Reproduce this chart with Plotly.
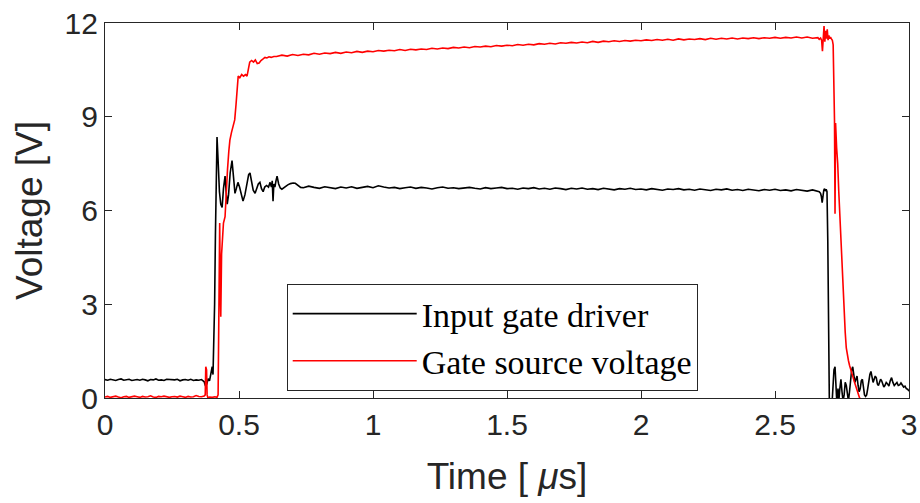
import plotly.graph_objects as go

# ---------------- data (time in microseconds, voltage in volts) ----------------
black_pre = [(0.00,0.59),(0.01,0.57),(0.02,0.60),(0.03,0.58),(0.04,0.56),(0.05,0.59),(0.06,0.61),
             (0.07,0.57),(0.08,0.58),(0.09,0.60),(0.10,0.56),(0.11,0.58),(0.12,0.59),(0.13,0.57),
             (0.14,0.60),(0.15,0.58),(0.16,0.55),(0.17,0.59),(0.18,0.58),(0.19,0.61),(0.20,0.57),
             (0.21,0.58),(0.22,0.56),(0.23,0.60),(0.24,0.59),(0.25,0.57),(0.26,0.58),(0.27,0.60),
             (0.28,0.55),(0.29,0.58),(0.30,0.59),(0.31,0.57),(0.32,0.60),(0.33,0.56),(0.34,0.58),
             (0.35,0.57),(0.36,0.59)]

black_rise = [(0.370,0.52),(0.375,0.38),(0.380,0.45),(0.385,0.62),(0.390,0.55),(0.395,0.80),
              (0.400,1.00),(0.403,0.75),(0.406,1.6),(0.409,3.0),(0.412,5.2),(0.415,7.3),(0.418,8.35),
              (0.422,7.6),(0.427,6.6),(0.432,6.2),(0.437,6.1),(0.442,6.7),(0.448,7.1),(0.452,6.6),
              (0.456,6.2),(0.461,6.5),(0.467,7.2),(0.474,7.6),(0.479,7.0),(0.485,6.55),(0.490,6.7),
              (0.496,6.9),(0.502,6.75),(0.508,6.5),(0.515,6.3),(0.522,6.5),(0.530,6.9),(0.536,7.15),
              (0.541,7.2),(0.547,6.9),(0.553,6.65),(0.560,6.55),(0.566,6.7),(0.572,6.85),(0.578,6.9),
              (0.584,6.7),(0.590,6.6),(0.596,6.75),(0.603,6.8),(0.610,6.75),(0.616,6.9),(0.621,6.75),
              (0.624,6.95),(0.627,6.3),(0.630,6.85),(0.634,6.75),(0.638,6.95),(0.642,7.1),(0.648,6.85),
              (0.654,6.72),(0.660,6.68),(0.666,6.72),(0.674,6.78),(0.682,6.82),(0.692,6.86),
              (0.702,6.88),(0.710,6.87),(0.720,6.80),(0.730,6.74)]

black_flat = [(0.74,6.73),(0.76,6.78),(0.78,6.74),(0.80,6.71),(0.82,6.76),(0.84,6.73),(0.86,6.70),
              (0.88,6.75),(0.90,6.72),(0.92,6.76),(0.94,6.71),(0.96,6.74),(0.98,6.77),(1.00,6.73),
              (1.02,6.79),(1.04,6.75),(1.06,6.72),(1.08,6.74),(1.10,6.70),(1.12,6.73),(1.14,6.75),
              (1.16,6.71),(1.18,6.74),(1.20,6.72),(1.22,6.69),(1.24,6.73),(1.26,6.75),(1.28,6.71),
              (1.30,6.73),(1.32,6.70),(1.34,6.72),(1.36,6.74),(1.38,6.71),(1.40,6.69),(1.42,6.73),
              (1.44,6.70),(1.46,6.72),(1.48,6.74),(1.50,6.70),(1.52,6.71),(1.54,6.68),(1.56,6.72),
              (1.58,6.70),(1.60,6.73),(1.62,6.69),(1.64,6.71),(1.66,6.68),(1.68,6.72),(1.70,6.70),
              (1.72,6.67),(1.74,6.71),(1.76,6.69),(1.78,6.72),(1.80,6.68),(1.82,6.70),(1.84,6.67),
              (1.86,6.71),(1.88,6.69),(1.90,6.66),(1.92,6.70),(1.94,6.68),(1.96,6.71),(1.98,6.67),
              (2.00,6.69),(2.02,6.66),(2.04,6.70),(2.06,6.68),(2.08,6.65),(2.10,6.69),(2.12,6.67),
              (2.14,6.70),(2.16,6.66),(2.18,6.68),(2.20,6.65),(2.22,6.69),(2.24,6.67),(2.26,6.64),
              (2.28,6.68),(2.30,6.66),(2.32,6.69),(2.34,6.65),(2.36,6.67),(2.38,6.64),(2.40,6.68),
              (2.42,6.66),(2.44,6.63),(2.46,6.67),(2.48,6.65),(2.50,6.68),(2.52,6.64),(2.54,6.66),
              (2.56,6.63),(2.58,6.67),(2.60,6.65),(2.62,6.62),(2.64,6.66),(2.66,6.63)]

black_fall = [(2.665,6.60),(2.670,6.55),(2.673,6.45),(2.676,6.25),(2.679,6.55),(2.682,6.65),
              (2.685,6.70),(2.688,6.62),(2.691,6.68),(2.694,6.60),(2.697,5.0),(2.700,1.5),
              (2.703,-0.3),(2.712,-0.3),(2.716,0.4),(2.720,0.9),(2.724,1.0),(2.728,0.2),(2.731,-0.2),
              (2.735,0.3),(2.738,-0.1),(2.742,0.3),(2.746,0.6),(2.750,0.2),(2.754,-0.1),(2.758,0.1),
              (2.762,0.5),(2.766,0.4),(2.770,0.1),(2.774,-0.1),(2.778,0.2),(2.782,0.6),(2.786,0.9),
              (2.790,1.0),(2.794,0.8),(2.798,0.5),(2.802,0.6),(2.806,0.7),(2.810,0.4),(2.814,0.2),
              (2.818,0.3),(2.822,0.55),(2.826,0.6),(2.830,0.35),(2.834,0.1),(2.838,0.05),(2.842,0.1),
              (2.846,0.3),(2.850,0.55),(2.854,0.75),(2.858,0.85),(2.862,0.6),(2.866,0.5),(2.870,0.6),
              (2.874,0.7),(2.878,0.65),(2.882,0.45),(2.886,0.4),(2.890,0.5),(2.894,0.6),(2.898,0.55),
              (2.902,0.45),(2.906,0.35),(2.910,0.4),(2.915,0.5),(2.920,0.45),(2.925,0.38),(2.930,0.55),
              (2.935,0.65),(2.940,0.5),(2.945,0.4),(2.950,0.45),(2.955,0.5),(2.960,0.4),(2.965,0.42),
              (2.970,0.48),(2.975,0.4),(2.980,0.35),(2.985,0.38),(2.990,0.3),(2.995,0.28),(3.000,0.22)]

red_pre = [(0.00,0.03),(0.01,0.05),(0.02,0.02),(0.03,0.04),(0.04,0.06),(0.05,0.03),(0.06,0.01),
           (0.07,0.04),(0.08,0.05),(0.09,0.02),(0.10,0.03),(0.11,0.06),(0.12,0.04),(0.13,0.02),
           (0.14,0.05),(0.15,0.03),(0.16,0.04),(0.17,0.07),(0.18,0.03),(0.19,0.02),(0.20,0.05),
           (0.21,0.04),(0.22,0.06),(0.23,0.03),(0.24,0.02),(0.25,0.04),(0.26,0.05),(0.27,0.03),
           (0.28,0.06),(0.29,0.04),(0.30,0.02),(0.31,0.05),(0.32,0.03),(0.33,0.04),(0.34,0.08),
           (0.35,0.05),(0.36,0.04),(0.37,0.06)]

red_rise = [(0.374,0.10),(0.376,1.0),(0.379,0.9),(0.381,0.1),(0.384,0.0),(0.390,0.03),(0.400,0.02),
            (0.410,0.04),(0.418,0.02),(0.422,0.10),(0.425,3.0),(0.428,5.6),(0.430,3.5),(0.432,2.6),
            (0.435,4.6),(0.438,5.3),(0.442,5.6),(0.448,5.8),(0.452,6.6),(0.457,7.3),(0.462,7.9),
            (0.466,8.25),(0.472,8.5),(0.478,8.7),(0.484,8.9),(0.489,9.4),(0.493,9.9),(0.497,10.3),
            (0.503,10.25),(0.510,10.35),(0.517,10.3),(0.524,10.35),(0.530,10.3),(0.535,10.5),
            (0.540,10.75),(0.547,10.8),(0.554,10.75),(0.561,10.82),(0.568,10.7),(0.575,10.72),
            (0.582,10.8),(0.590,10.85),(0.597,10.9),(0.604,10.88),(0.612,10.92),(0.620,10.9),
            (0.630,10.93)]

red_flat = [(0.64,10.93),(0.66,10.97),(0.68,10.94),(0.70,10.99),(0.72,10.96),(0.74,11.00),(0.76,10.98),
            (0.78,11.03),(0.80,11.00),(0.82,11.04),(0.84,11.02),(0.86,11.06),(0.88,11.03),(0.90,11.07),
            (0.92,11.05),(0.94,11.09),(0.96,11.06),(0.98,11.10),(1.00,11.08),(1.02,11.12),(1.04,11.10),
            (1.06,11.13),(1.08,11.11),(1.10,11.15),(1.12,11.12),(1.14,11.16),(1.16,11.14),(1.18,11.17),
            (1.20,11.15),(1.22,11.19),(1.24,11.17),(1.26,11.20),(1.28,11.18),(1.30,11.22),(1.32,11.20),
            (1.34,11.23),(1.36,11.21),(1.38,11.25),(1.40,11.23),(1.42,11.26),(1.44,11.24),(1.46,11.28),
            (1.48,11.26),(1.50,11.29),(1.52,11.27),(1.54,11.31),(1.56,11.29),(1.58,11.32),(1.60,11.30),
            (1.62,11.34),(1.64,11.32),(1.66,11.35),(1.68,11.33),(1.70,11.37),(1.72,11.35),(1.74,11.38),
            (1.76,11.36),(1.78,11.39),(1.80,11.37),(1.82,11.41),(1.84,11.38),(1.86,11.42),(1.88,11.40),
            (1.90,11.43),(1.92,11.41),(1.94,11.44),(1.96,11.42),(1.98,11.45),(2.00,11.43),(2.02,11.46),
            (2.04,11.44),(2.06,11.47),(2.08,11.45),(2.10,11.48),(2.12,11.45),(2.14,11.49),(2.16,11.46),
            (2.18,11.49),(2.20,11.47),(2.22,11.50),(2.24,11.47),(2.26,11.51),(2.28,11.48),(2.30,11.51),
            (2.32,11.49),(2.34,11.52),(2.36,11.49),(2.38,11.52),(2.40,11.50),(2.42,11.53),(2.44,11.50),
            (2.46,11.53),(2.48,11.51),(2.50,11.54),(2.52,11.51),(2.54,11.54),(2.56,11.52),(2.58,11.55),
            (2.60,11.52),(2.62,11.55),(2.64,11.51),(2.66,11.53)]

red_fall = [(2.665,11.48),(2.670,11.52),(2.674,11.45),(2.677,11.10),(2.680,11.50),(2.683,11.90),
            (2.686,11.40),(2.689,11.75),(2.692,11.50),(2.695,11.80),(2.698,11.45),(2.701,11.60),
            (2.704,11.50),(2.707,11.55),(2.710,11.50),(2.714,11.45),(2.717,11.30),(2.720,9.5),
            (2.722,8.9),(2.724,5.9),(2.726,8.8),(2.730,8.0),(2.734,7.5),(2.738,6.6),(2.742,5.8),
            (2.746,4.9),(2.750,4.2),(2.754,3.4),(2.758,2.7),(2.762,2.1),(2.766,1.6),(2.770,1.35),
            (2.774,1.2),(2.778,1.05),(2.782,0.95),(2.786,0.85),(2.790,0.7),(2.795,0.55),(2.800,0.4),
            (2.805,0.25),(2.810,0.12),(2.815,0.02),(2.820,-0.1),(2.830,-0.3),(2.860,-0.5),(2.900,-0.6),
            (2.950,-0.6),(3.000,-0.6)]

x_ticks = [0, 0.5, 1, 1.5, 2, 2.5, 3]
y_ticks = [0, 3, 6, 9, 12]
series_names = ["Input gate driver", "Gate source voltage"]

# ---------------- build ----------------
def unzip(*segs):
    xs, ys = [], []
    for seg in segs:
        for t, v in seg:
            xs.append(t)
            ys.append(v)
    return xs, ys

bx, by = unzip(black_pre, black_rise, black_flat, black_fall)
rx, ry = unzip(red_pre, red_rise, red_flat, red_fall)

axis_col = "#262626"
sans = "Liberation Sans, Arial, Helvetica, sans-serif"

fig = go.Figure()
fig.add_trace(go.Scatter(x=bx, y=by, mode="lines", name=series_names[0],
                         line=dict(color="#000000", width=1.6)))
fig.add_trace(go.Scatter(x=rx, y=ry, mode="lines", name=series_names[1],
                         line=dict(color="#ff0000", width=1.6)))

fig.update_layout(
    width=920, height=503,
    margin=dict(l=105, r=11, t=23, b=105, autoexpand=False),
    paper_bgcolor="white", plot_bgcolor="white",
    showlegend=True,
    legend=dict(x=0.226, y=0.304, xanchor="left", yanchor="top",
                bgcolor="white", bordercolor=axis_col, borderwidth=1,
                font=dict(family="Liberation Serif, Times New Roman, serif", size=34, color="#000000"),
                tracegroupgap=0, itemwidth=124),
    font=dict(family=sans, color=axis_col),
)
fig.update_xaxes(range=[0, 3], tickvals=x_ticks, ticks="inside", ticklen=7, tickwidth=1,
                 tickcolor=axis_col, showline=True, linecolor=axis_col, linewidth=1.2,
                 mirror="ticks", showgrid=False, zeroline=False, automargin=False,
                 tickfont=dict(family=sans, size=30, color=axis_col),
                 title=dict(text="Time [ <i>μ</i>s]", font=dict(family=sans, size=37, color=axis_col),
                            standoff=23))
fig.update_yaxes(range=[0, 12], tickvals=y_ticks, ticks="inside", ticklen=7, tickwidth=1,
                 tickcolor=axis_col, showline=True, linecolor=axis_col, linewidth=1.2,
                 mirror="ticks", showgrid=False, zeroline=False, automargin=False,
                 tickfont=dict(family=sans, size=30, color=axis_col),
                 title=dict(text="Voltage [V]", font=dict(family=sans, size=37, color=axis_col),
                            standoff=10))

fig.write_html("out.html")
